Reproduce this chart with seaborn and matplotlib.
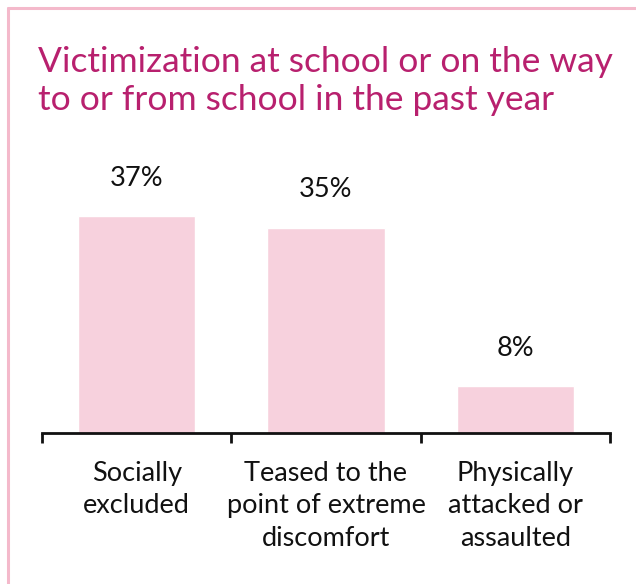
import matplotlib
matplotlib.use("Agg")
import matplotlib.pyplot as plt
import seaborn as sns
import pandas as pd
from matplotlib.lines import Line2D

categories = ["Socially\nexcluded",
              "Teased to the\npoint of extreme\ndiscomfort",
              "Physically\nattacked or\nassaulted"]
values = [37, 35, 8]
value_labels = ["37%", "35%", "8%"]
title_lines = ["Victimization at school or on the way",
               "to or from school in the past year"]

sns.set_theme(style="white")
plt.rcParams["font.family"] = ["Lato", "DejaVu Sans"]

W, H = 636, 584
fig = plt.figure(figsize=(W / 100, H / 100), dpi=100)
fig.patch.set_facecolor("white")

# pink frame along the top and left edges
frame_color = "#f4b9cb"
fig.add_artist(Line2D([8 / W, 8 / W], [0, 1 - 8 / H], transform=fig.transFigure,
                      color=frame_color, lw=2.2))
fig.add_artist(Line2D([8 / W, 1], [1 - 8 / H, 1 - 8 / H], transform=fig.transFigure,
                      color=frame_color, lw=2.2))

# title
title_color = "#b8206e"
for i, line in enumerate(title_lines):
    fig.text(38 / W, 1 - (72 + 38 * i) / H, line, color=title_color,
             fontsize=25.5, va="baseline", ha="left")

ax_left, ax_right = 42, 610
ax_bottom = 433
ax_top = 150
ax = fig.add_axes([ax_left / W, 1 - ax_bottom / H,
                   (ax_right - ax_left) / W, (ax_bottom - ax_top) / H])

df = pd.DataFrame({"category": categories, "value": values})
sns.barplot(data=df, x="category", y="value", color="#f7d1dd", saturation=1,
            width=0.62, ax=ax)

ax.set_xlim(-0.5, 2.5)
ax.set_ylim(0, (ax_bottom - ax_top) / 5.86)
ax.set_xlabel("")
ax.set_ylabel("")
ax.set_yticks([])
for s in ["top", "right", "left"]:
    ax.spines[s].set_visible(False)
ax.spines["bottom"].set_linewidth(2)
ax.spines["bottom"].set_color("#111111")
ax.set_facecolor("none")

# boundary ticks between categories
ax.set_xticks([-0.5, 0.5, 1.5, 2.5])
ax.set_xticklabels([])
ax.tick_params(axis="x", which="major", direction="out", length=7, width=2,
               color="#111111", bottom=True)
ax.set_xticks([0, 1, 2], minor=True)
ax.set_xticklabels(categories, minor=True)
ax.tick_params(axis="x", which="minor", length=0, pad=20, labelsize=19.5,
               labelcolor="#111111")
for lbl in ax.get_xticklabels(minor=True):
    lbl.set_linespacing(1.38)

for i, (v, t) in enumerate(zip(values, value_labels)):
    ax.annotate(t, (i, v), xytext=(0, 27.4), textcoords="offset points",
                ha="center", va="center", fontsize=19.5, color="#111111")

fig.savefig("out.png", dpi=100, facecolor="white")
